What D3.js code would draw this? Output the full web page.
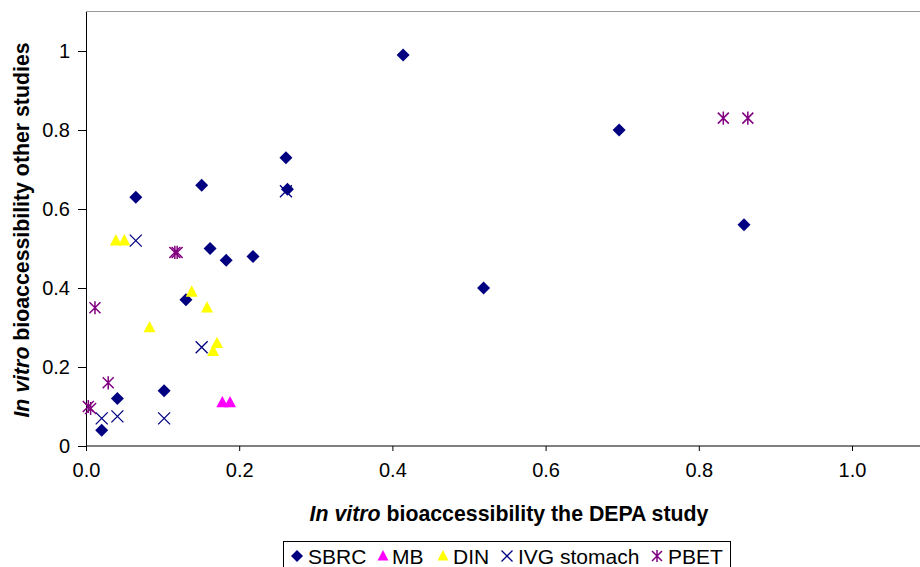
<!DOCTYPE html>
<html><head><meta charset="utf-8">
<script src="https://cdn.jsdelivr.net/npm/d3@7"></script>
<style>
body{margin:0;background:#fff;}
svg{display:block;font-family:"Liberation Sans",Arial,sans-serif;}
</style></head>
<body>
<svg id="chart" width="920" height="567"></svg>
<script>
const seriesNames = ["SBRC","MB","DIN","IVG stomach","PBET"];
const sbrcX = [0.0205,0.041,0.065,0.102,0.1305,0.151,0.162,0.183,0.218,0.261,0.263,0.414,0.519,0.696,0.859];
const sbrcY = [0.04,0.12,0.63,0.14,0.37,0.66,0.50,0.47,0.48,0.73,0.65,0.99,0.40,0.80,0.56];
const mbX = [0.178,0.188];
const mbY = [0.11,0.11];
const dinX = [0.039,0.050,0.083,0.138,0.158,0.171,0.166];
const dinY = [0.52,0.52,0.30,0.39,0.35,0.26,0.24];
const ivgX = [0.0205,0.041,0.065,0.102,0.151,0.261];
const ivgY = [0.07,0.075,0.52,0.07,0.25,0.645];
const pbetX = [0.003,0.006,0.0117,0.029,0.116,0.119,0.832,0.864];
const pbetY = [0.10,0.095,0.35,0.16,0.49,0.49,0.83,0.83];
const xTicks = [0,0.2,0.4,0.6,0.8,1.0];
const yTicks = [0,0.2,0.4,0.6,0.8,1];

const svg = d3.select("#chart");
const x = d3.scaleLinear().domain([0,1]).range([86,852]);
const y = d3.scaleLinear().domain([0,1.1]).range([446,11.5]);

// top border
svg.append("line").attr("x1",86).attr("x2",920).attr("y1",y(1.1)).attr("y2",y(1.1))
  .attr("stroke","#999").attr("stroke-width",1.2);

const xAxis = svg.append("g").attr("transform","translate(0,446)")
  .call(d3.axisBottom(x).tickValues(xTicks).tickSize(5).tickSizeOuter(0).tickFormat(d3.format(".1f")));
xAxis.select(".domain").attr("d","M86,0H920").attr("stroke","#000");
xAxis.selectAll("text").attr("font-size",20).attr("fill","#000").attr("font-family","'Liberation Sans',Arial,sans-serif")
  .attr("y",17).attr("dy","0.71em");

const yAxis = svg.append("g").attr("transform","translate(86,0)")
  .call(d3.axisLeft(y).tickValues(yTicks).tickSize(8).tickSizeOuter(0).tickFormat(d3.format("")));
yAxis.select(".domain").attr("stroke","#000");
yAxis.selectAll("text").attr("font-size",20).attr("fill","#000").attr("font-family","'Liberation Sans',Arial,sans-serif")
  .attr("x",-16);

// axis titles
const xt = svg.append("text").attr("x",509).attr("y",521).attr("text-anchor","middle")
  .attr("font-size",21.3).attr("font-weight","bold");
xt.append("tspan").attr("font-style","italic").text("In vitro");
xt.append("tspan").text("  bioaccessibility the DEPA study");

const yt = svg.append("text").attr("transform","translate(29,230) rotate(-90)").attr("text-anchor","middle")
  .attr("font-size",21.3).attr("font-weight","bold");
yt.append("tspan").attr("font-style","italic").text("In vitro");
yt.append("tspan").text("  bioaccessibility other studies");

// markers
function diamond(g,cx,cy,s){g.append("path").attr("d",`M${cx},${cy-s}L${cx+s},${cy}L${cx},${cy+s}L${cx-s},${cy}Z`).attr("fill","#000080");}
function tri(g,cx,cy,s,col){g.append("path").attr("d",`M${cx},${cy-s*1.1}L${cx+s},${cy+s*0.8}L${cx-s},${cy+s*0.8}Z`).attr("fill",col);}
function cross(g,cx,cy,s,col){g.append("path").attr("d",`M${cx-s},${cy-s}L${cx+s},${cy+s}M${cx-s},${cy+s}L${cx+s},${cy-s}`).attr("stroke",col).attr("stroke-width",1.3).attr("fill","none");}
function star(g,cx,cy,s,col){g.append("path").attr("d",`M${cx-s},${cy-s}L${cx+s},${cy+s}M${cx-s},${cy+s}L${cx+s},${cy-s}M${cx},${cy-s*1.2}L${cx},${cy+s*1.2}`).attr("stroke",col).attr("stroke-width",1.5).attr("fill","none");}

const pts = svg.append("g");
sbrcX.forEach((v,i)=>diamond(pts,x(v),y(sbrcY[i]),6.5));
mbX.forEach((v,i)=>tri(pts,x(v),y(mbY[i]),6,"#FF00FF"));
dinX.forEach((v,i)=>tri(pts,x(v),y(dinY[i]),6,"#FFFF00"));
ivgX.forEach((v,i)=>cross(pts,x(v),y(ivgY[i]),6,"#000080"));
pbetX.forEach((v,i)=>star(pts,x(v),y(pbetY[i]),5.5,"#800080"));

// legend
const lg = svg.append("g");
lg.append("rect").attr("x",283.5).attr("y",541.5).attr("width",447).attr("height",40)
  .attr("fill","#fff").attr("stroke","#000").attr("stroke-width",1);
const items = [
  {name:seriesNames[0], mx:297, tx:308, draw:(g,cx,cy)=>diamond(g,cx,cy,6)},
  {name:seriesNames[1], mx:383, tx:392, draw:(g,cx,cy)=>tri(g,cx,cy,5.5,"#FF00FF")},
  {name:seriesNames[2], mx:443, tx:453, draw:(g,cx,cy)=>tri(g,cx,cy,5.5,"#FFFF00")},
  {name:seriesNames[3], mx:507, tx:518, draw:(g,cx,cy)=>cross(g,cx,cy,5.5,"#000080")},
  {name:seriesNames[4], mx:657, tx:668, draw:(g,cx,cy)=>star(g,cx,cy,5,"#800080")}
];
items.forEach(it=>{
  it.draw(lg,it.mx,556);
  lg.append("text").attr("x",it.tx).attr("y",564).attr("font-size",21).attr("fill","#000").text(it.name);
});
</script>
</body></html>
